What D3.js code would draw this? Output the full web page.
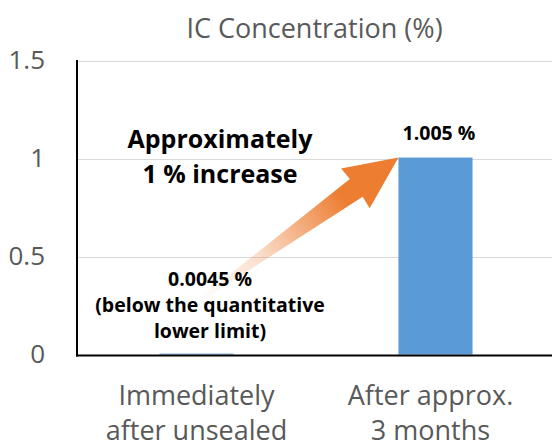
<!DOCTYPE html>
<html>
<head>
<meta charset="utf-8">
<script src="https://cdn.jsdelivr.net/npm/d3@7"></script>
<style>
  html, body { margin: 0; padding: 0; background: #fff; }
  svg { display: block; }
</style>
</head>
<body>
<div id="chart"></div>
<script>
// IC concentration before and after storage
const categories = [
  ["Immediately", "after unsealed"],
  ["After approx.", "3 months"]
];
const values = [0.0045, 1.005];
const valueLabels = [
  ["0.0045 %", "(below the quantitative", "lower limit)"],
  ["1.005 %"]
];
const yTicks = [0, 0.5, 1, 1.5];
const titleText = "IC Concentration (%)";
const noteLines = ["Approximately", "1 % increase"];

const W = 552, H = 448;
const plotLeft = 77, plotRight = 555, plotTop = 60, plotBase = 354.5;
const FONT = "'Open Sans', 'Noto Sans', sans-serif";

const svg = d3.select("#chart").append("svg")
  .attr("width", W).attr("height", H);

const x = d3.scaleBand()
  .domain(d3.range(categories.length))
  .range([plotLeft, plotRight])
  .paddingInner(0.69)
  .paddingOuter(0.345);

const y = d3.scaleLinear().domain([0, 1.5]).range([plotBase, plotTop + 0.5]);

// horizontal gridlines
svg.append("g").selectAll("line")
  .data(yTicks.filter(d => d > 0))
  .join("line")
  .attr("x1", plotLeft).attr("x2", W)
  .attr("y1", d => Math.round(y(d)) + 0.5).attr("y2", d => Math.round(y(d)) + 0.5)
  .attr("stroke", "#d9d9d9").attr("stroke-width", 1);

// bars
svg.append("g").selectAll("rect")
  .data(values)
  .join("rect")
  .attr("x", (d, i) => x(i))
  .attr("width", x.bandwidth())
  .attr("y", d => y(d))
  .attr("height", d => y(0) - y(d))
  .attr("fill", "#5b9bd5");

// y axis labels (no tick marks)
const yAxis = d3.axisLeft(y).tickValues(yTicks).tickSize(0).tickPadding(32)
  .tickFormat(d => String(d));
const gy = svg.append("g").attr("transform", `translate(${plotLeft},0)`).call(yAxis);
gy.select(".domain").remove();
gy.selectAll("text")
  .attr("font-family", FONT).attr("font-size", 26).attr("fill", "#595959");

// axis lines
svg.append("line")
  .attr("x1", plotLeft).attr("x2", plotLeft)
  .attr("y1", plotTop).attr("y2", plotBase + 2)
  .attr("stroke", "#000").attr("stroke-width", 2);
svg.append("line")
  .attr("x1", plotLeft - 1).attr("x2", W)
  .attr("y1", plotBase + 1).attr("y2", plotBase + 1)
  .attr("stroke", "#000").attr("stroke-width", 2);

// category labels
const cat = svg.append("g").selectAll("text")
  .data(categories)
  .join("text")
  .attr("text-anchor", "middle")
  .attr("font-family", FONT).attr("font-size", 27).attr("fill", "#595959");
cat.selectAll("tspan")
  .data((d, i) => d.map(t => ({ t, i })))
  .join("tspan")
  .attr("x", d => x(d.i) + x.bandwidth() / 2 - (d.i === 1 ? 5 : 0))
  .attr("y", (d, j) => 405 + j * 35)
  .text(d => d.t);

// title
svg.append("text")
  .attr("x", (plotLeft + W) / 2).attr("y", 38)
  .attr("text-anchor", "middle")
  .attr("font-family", FONT).attr("font-size", 27).attr("fill", "#595959")
  .text(titleText);

// gradient arrow from the first bar's label up to the second bar's top
const tail = [200, 300];
const tip = [x(1), y(values[1])];
const dx = tip[0] - tail[0], dy = tip[1] - tail[1];
const L = Math.hypot(dx, dy);
const u = [dx / L, dy / L], n = [-u[1], u[0]];
const pt = (a, b) => [tip[0] + u[0] * a + n[0] * b, tip[1] + u[1] * a + n[1] * b];
const headLen = 53, headHalf = 24.5, shaftHalf = 11, tailHalf = 1.5;
const arrowPts = [
  pt(0, 0),
  pt(-headLen, headHalf),
  pt(-headLen + 1, shaftHalf),
  pt(-L, tailHalf),
  pt(-L, -tailHalf),
  pt(-headLen + 1, -shaftHalf),
  pt(-headLen, -headHalf)
];
const defs = svg.append("defs");
const grad = defs.append("linearGradient").attr("id", "arrowGrad")
  .attr("gradientUnits", "userSpaceOnUse")
  .attr("x1", tail[0]).attr("y1", tail[1]).attr("x2", tip[0]).attr("y2", tip[1]);
grad.append("stop").attr("offset", 0).attr("stop-color", "#ed7d31").attr("stop-opacity", 0);
grad.append("stop").attr("offset", 0.3).attr("stop-color", "#ed7d31").attr("stop-opacity", 0.25);
grad.append("stop").attr("offset", 0.72).attr("stop-color", "#ed7d31").attr("stop-opacity", 1);
svg.append("path")
  .attr("d", d3.line()(arrowPts) + "Z")
  .attr("fill", "url(#arrowGrad)");

// value labels
const labelPos = [[210, 286], [439, 140]];
valueLabels.forEach((lines, i) => {
  const t = svg.append("text")
    .attr("text-anchor", "middle")
    .attr("font-family", FONT).attr("font-weight", "bold")
    .attr("font-size", 19.5).attr("fill", "#000");
  lines.forEach((s, j) => {
    t.append("tspan").attr("x", labelPos[i][0]).attr("y", labelPos[i][1] + j * 26).text(s);
  });
});

// annotation
const note = svg.append("text")
  .attr("text-anchor", "middle")
  .attr("font-family", FONT).attr("font-weight", "bold")
  .attr("font-size", 25).attr("fill", "#000");
noteLines.forEach((s, j) => {
  note.append("tspan").attr("x", 220).attr("y", 148 + j * 35).text(s);
});
</script>
</body>
</html>
